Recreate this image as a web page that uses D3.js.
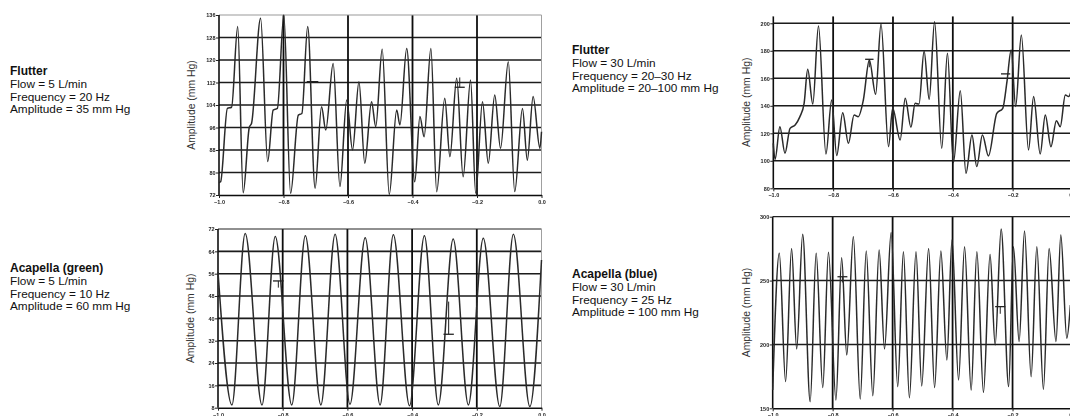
<!DOCTYPE html>
<html>
<head>
<meta charset="utf-8">
<script src="https://cdn.jsdelivr.net/npm/d3@7"></script>
<style>
  body { margin: 0; background: #fff; }
  svg { display: block; font-family: "Liberation Sans", Arial, sans-serif; }
</style>
</head>
<body>
<div id="fig"></div>
<script>
// time axis, seconds (same for all four traces)
const timeTicks = [-1.0, -0.8, -0.6, -0.4, -0.2, 0.0];

// Flutter, 5 L/min  [time, mm Hg]  (peaks, troughs and shoulders)
const flutter5 = [
  [-1.000, 76.4], [-0.995, 76.7], [-0.974, 102.8], [-0.961, 103.2], [-0.942, 131.9],
  [-0.925, 72.8], [-0.906, 96.1], [-0.899, 97.5], [-0.871, 134.8], [-0.849, 83.9],
  [-0.832, 102.2], [-0.819, 102.8], [-0.799, 136.0], [-0.778, 72.6], [-0.754, 100.4],
  [-0.743, 101.0], [-0.725, 131.9], [-0.702, 74.4], [-0.682, 103.4], [-0.669, 95.1],
  [-0.646, 118.8], [-0.625, 75.0], [-0.604, 105.8], [-0.586, 88.0], [-0.566, 112.3],
  [-0.548, 83.3], [-0.527, 105.2], [-0.514, 96.3], [-0.494, 123.8], [-0.472, 72.2],
  [-0.449, 102.2], [-0.439, 96.9], [-0.418, 124.1], [-0.393, 76.7], [-0.377, 99.9],
  [-0.364, 92.7], [-0.343, 124.1], [-0.325, 73.2], [-0.300, 106.4], [-0.284, 85.6],
  [-0.263, 113.5], [-0.243, 78.5], [-0.220, 112.9], [-0.204, 72.6], [-0.183, 105.2],
  [-0.165, 83.3], [-0.145, 107.6], [-0.127, 88.6], [-0.103, 119.4], [-0.083, 73.2],
  [-0.059, 102.8], [-0.044, 84.4], [-0.026, 107.0], [-0.005, 88.6], [0.000, 94.5]
];

// Acapella (green), 5 L/min
const acapellaGreen = [
  [-1.000, 56.7], [-0.957, 9.0], [-0.916, 70.4], [-0.864, 9.0], [-0.823, 69.3],
  [-0.772, 9.0], [-0.730, 69.6], [-0.682, 9.0], [-0.638, 70.1], [-0.592, 9.2],
  [-0.545, 68.9], [-0.499, 9.0], [-0.458, 69.9], [-0.408, 8.7], [-0.362, 69.6],
  [-0.319, 9.0], [-0.273, 68.4], [-0.226, 9.0], [-0.180, 68.7], [-0.129, 8.4],
  [-0.087, 70.1], [-0.036, 8.4], [0.000, 60.9]
];

// Flutter, 30 L/min
const flutter30 = [
  [-1.000, 112.7], [-0.994, 101.1], [-0.978, 124.8], [-0.961, 105.5], [-0.944, 123.6],
  [-0.927, 126.1], [-0.911, 132.1], [-0.897, 141.8], [-0.885, 166.5], [-0.868, 141.3],
  [-0.849, 198.1], [-0.824, 105.0], [-0.805, 144.2], [-0.788, 103.8], [-0.768, 135.0],
  [-0.749, 112.7], [-0.730, 133.3], [-0.716, 132.1], [-0.699, 144.2], [-0.679, 173.3],
  [-0.658, 148.4], [-0.640, 199.5], [-0.615, 110.3], [-0.601, 138.2], [-0.576, 115.2],
  [-0.559, 145.5], [-0.540, 124.4], [-0.526, 141.8], [-0.513, 141.3], [-0.496, 179.9],
  [-0.479, 144.7], [-0.461, 201.2], [-0.437, 109.1], [-0.418, 178.2], [-0.398, 98.7],
  [-0.375, 151.0], [-0.356, 90.9], [-0.336, 118.8], [-0.320, 95.8], [-0.301, 118.8],
  [-0.281, 103.5], [-0.253, 134.5], [-0.233, 138.2], [-0.219, 157.6], [-0.205, 180.6],
  [-0.190, 139.4], [-0.171, 191.5], [-0.147, 107.9], [-0.130, 146.7], [-0.108, 105.0],
  [-0.091, 133.3], [-0.072, 110.3], [-0.054, 129.2], [-0.041, 124.8], [-0.024, 147.9],
  [-0.013, 146.7], [0.000, 155.2]
];

// Acapella (blue), 30 L/min
const acapellaBlue = [
  [-1.000, 164.3], [-0.978, 271.3], [-0.957, 170.9], [-0.937, 275.2], [-0.920, 196.4],
  [-0.900, 286.2], [-0.875, 155.2], [-0.855, 271.3], [-0.833, 166.2], [-0.814, 272.1],
  [-0.789, 156.5], [-0.770, 267.9], [-0.753, 191.7], [-0.731, 284.3], [-0.708, 157.3],
  [-0.688, 273.1], [-0.666, 159.9], [-0.645, 273.9], [-0.627, 196.4], [-0.605, 287.7],
  [-0.583, 167.0], [-0.564, 272.6], [-0.544, 158.3], [-0.522, 272.6], [-0.503, 167.5],
  [-0.480, 275.2], [-0.460, 166.2], [-0.439, 273.1], [-0.419, 187.8], [-0.402, 281.7],
  [-0.380, 172.2], [-0.360, 276.5], [-0.338, 164.3], [-0.319, 272.6], [-0.297, 162.5],
  [-0.275, 270.5], [-0.258, 199.6], [-0.238, 290.3], [-0.213, 167.0], [-0.197, 276.5],
  [-0.178, 202.2], [-0.160, 288.8], [-0.138, 174.8], [-0.119, 276.5], [-0.097, 164.9],
  [-0.078, 275.2], [-0.055, 202.2], [-0.039, 285.7], [-0.019, 204.8], [-0.007, 230.9]
];

// cursor marks drawn on the traces: [t0, t1, level, stemTo]
const flutter5Marks = [[-0.728, -0.692, 112.3, 112.3], [-0.269, -0.238, 110.3, 113.8]];
const acapellaGreenMarks = [[-0.830, -0.797, 53.4, 51.0], [-0.303, -0.271, 34.3, 46.0]];
const flutter30Marks = [[-0.693, -0.665, 173.8, 168.0], [-0.239, -0.208, 163.2, 163.2]];
const acapellaBlueMarks = [[-0.784, -0.751, 253.0, 248.5], [-0.258, -0.224, 229.6, 224.0]];

const flutter5Ticks = [72, 80, 88, 96, 104, 112, 120, 128, 136];
const acapellaGreenTicks = [8, 16, 24, 32, 40, 48, 56, 64, 72];
const flutter30Ticks = [80, 100, 120, 140, 160, 180, 200];
const acapellaBlueTicks = [150, 200, 250, 300];

const notes = [
  { title: "Flutter", lines: ["Flow = 5 L/min", "Frequency = 20 Hz", "Amplitude = 35 mm Hg"] },
  { title: "Acapella (green)", lines: ["Flow = 5 L/min", "Frequency = 10 Hz", "Amplitude = 60 mm Hg"] },
  { title: "Flutter", lines: ["Flow = 30 L/min", "Frequency = 20–30 Hz", "Amplitude = 20–100 mm Hg"] },
  { title: "Acapella (blue)", lines: ["Flow = 30 L/min", "Frequency = 25 Hz", "Amplitude = 100 mm Hg"] }
];

const W = 1070, H = 416;
const svg = d3.select("#fig").append("svg").attr("width", W).attr("height", H);

svg.append("defs").append("filter").attr("id", "scan")
  .append("feGaussianBlur").attr("stdDeviation", 0.35);

const panels = [
  { data: flutter5, marks: flutter5Marks, ticks: flutter5Ticks, yDomain: [72, 136],
    left: 219, right: 541.5, top: 15, bottom: 195, titleX: 192, hGrid: flutter5Ticks.slice(1, -1),
    topStroke: "#9a9a9a", note: notes[0], noteX: 10, noteY: 75 },
  { data: acapellaGreen, marks: acapellaGreenMarks, ticks: acapellaGreenTicks, yDomain: [8, 72],
    left: 218, right: 541.5, top: 229, bottom: 407.7, titleX: 191, hGrid: acapellaGreenTicks.slice(1, -1),
    topStroke: "#222", note: notes[1], noteX: 10, noteY: 272 },
  { data: flutter30, marks: flutter30Marks, ticks: flutter30Ticks, yDomain: [80, 205],
    left: 773.3, right: 1072.5, top: 16.4, bottom: 188.3, titleX: 747, hGrid: flutter30Ticks.slice(1),
    topStroke: null, note: notes[2], noteX: 572, noteY: 54 },
  { data: acapellaBlue, marks: acapellaBlueMarks, ticks: acapellaBlueTicks, yDomain: [150, 300],
    left: 772.7, right: 1072.5, top: 216.7, bottom: 408.3, titleX: 747, hGrid: acapellaBlueTicks.slice(1, -1),
    topStroke: "#222", note: notes[3], noteX: 572, noteY: 278 }
];

const line = d3.line().curve(d3.curveMonotoneX);

panels.forEach(p => {
  const x = d3.scaleLinear().domain([-1, 0]).range([p.left, p.right]);
  const y = d3.scaleLinear().domain(p.yDomain).range([p.bottom, p.top]);
  const g = svg.append("g").attr("filter", "url(#scan)");

  g.selectAll(".hgrid").data(p.hGrid).enter().append("line")
    .attr("x1", p.left).attr("x2", p.right)
    .attr("y1", d => y(d)).attr("y2", d => y(d))
    .attr("stroke", "#1c1c1c").attr("stroke-width", 1.6);

  g.selectAll(".vgrid").data(timeTicks.slice(1, -1)).enter().append("line")
    .attr("x1", d => x(d)).attr("x2", d => x(d))
    .attr("y1", p.top).attr("y2", p.bottom)
    .attr("stroke", "#111").attr("stroke-width", 1.8);

  if (p.topStroke) {
    g.append("line").attr("x1", p.left).attr("x2", p.right)
      .attr("y1", p.top).attr("y2", p.top)
      .attr("stroke", p.topStroke).attr("stroke-width", 1.2);
  }
  g.append("line").attr("x1", p.right).attr("x2", p.right)
    .attr("y1", p.top).attr("y2", p.bottom)
    .attr("stroke", "#a0a0a0").attr("stroke-width", 1);

  const yAxis = d3.axisLeft(y).tickValues(p.ticks).tickSize(3).tickSizeOuter(0)
    .tickFormat(d3.format("d"));
  const ya = g.append("g").attr("transform", "translate(" + p.left + ",0)").call(yAxis);
  ya.select(".domain").attr("stroke", "#111").attr("stroke-width", 1.6)
    .attr("d", "M0," + p.top + "V" + p.bottom);

  const xAxis = d3.axisBottom(x).tickValues(timeTicks).tickSize(3).tickSizeOuter(0)
    .tickFormat(d3.format(".1f"));
  const xa = g.append("g").attr("transform", "translate(0," + p.bottom + ")").call(xAxis);
  xa.select(".domain").attr("stroke", "#111").attr("stroke-width", 1.6);

  [ya, xa].forEach(a => {
    a.selectAll(".tick line").attr("stroke", "#222").attr("stroke-width", 1);
    a.selectAll(".tick text").attr("font-size", 5.5).attr("font-weight", "bold").attr("fill", "#222");
  });
  ya.selectAll(".tick text").attr("x", -3.5);
  xa.selectAll(".tick text").attr("y", 5);

  g.append("path").datum(p.data)
    .attr("d", line.x(d => x(d[0])).y(d => y(d[1])))
    .attr("fill", "none").attr("stroke", "#2a2a2a").attr("stroke-width", 1.5);

  p.marks.forEach(m => {
    g.append("line").attr("x1", x(m[0])).attr("x2", x(m[1]))
      .attr("y1", y(m[2])).attr("y2", y(m[2]))
      .attr("stroke", "#222").attr("stroke-width", 1.3);
    g.append("line").attr("x1", x((m[0] + m[1]) / 2)).attr("x2", x((m[0] + m[1]) / 2))
      .attr("y1", y(m[2])).attr("y2", y(m[3]))
      .attr("stroke", "#222").attr("stroke-width", 1);
  });

  svg.append("text")
    .attr("transform", "translate(" + p.titleX + "," + ((p.top + p.bottom) / 2) + ") rotate(-90)")
    .attr("text-anchor", "middle").attr("dominant-baseline", "middle")
    .attr("font-size", 10.4).attr("fill", "#333")
    .text("Amplitude (mm Hg)");

  const t = svg.append("text").attr("x", p.noteX).attr("y", p.noteY).attr("fill", "#111");
  t.append("tspan").attr("font-weight", "bold").attr("font-size", 12).text(p.note.title);
  p.note.lines.forEach(s => {
    t.append("tspan").attr("x", p.noteX).attr("dy", 12.8).attr("font-size", 11.8).text(s);
  });
});
</script>
</body>
</html>
